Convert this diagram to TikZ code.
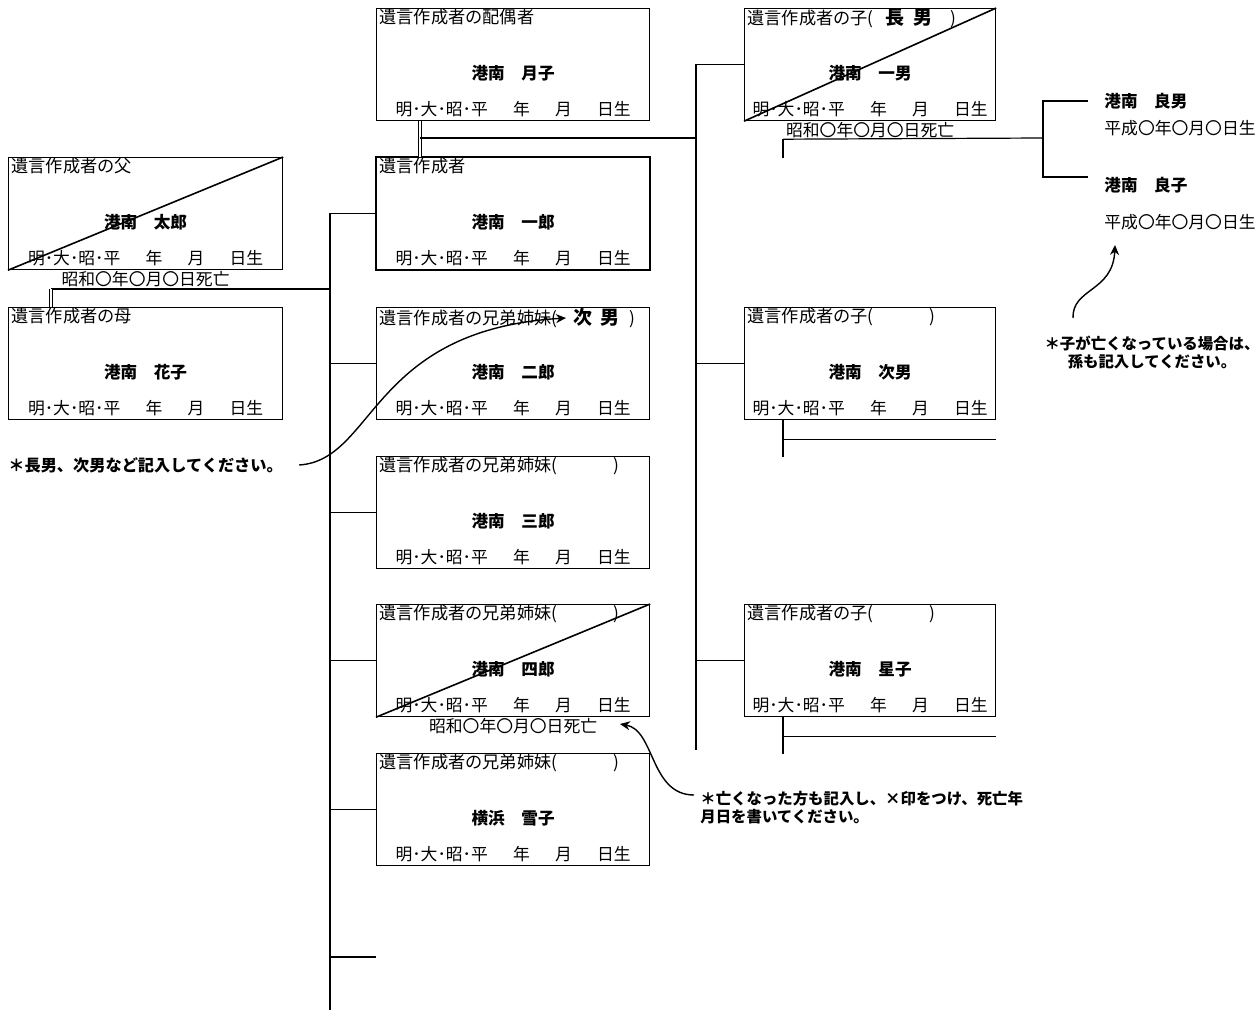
\documentclass[tikz,border=0pt]{standalone}
\usepackage{fontspec}
\setmainfont{Noto Sans CJK JP}
\usetikzlibrary{arrows.meta}

\tikzset{
  card/.style={draw,line width=0.6pt,minimum height=56pt,inner sep=0pt,anchor=north west},
  lbl/.style={anchor=north west,inner sep=0pt,font=\fontsize{8.6}{9}\selectfont},
  nm/.style={inner sep=0pt,font=\fontsize{8.3}{9}\selectfont\bfseries},
  dt/.style={inner sep=0pt,font=\fontsize{8.4}{9}\selectfont},
  died/.style={anchor=north,inner sep=0pt,font=\fontsize{8.4}{9}\selectfont},
  strike/.style={line width=0.8pt},
  conn/.style={line width=0.6pt},
  heir/.style={line width=1.1pt},
  marriage/.style={double,double distance=1.2pt,line width=0.5pt},
  gcname/.style={anchor=west,inner xsep=8pt,inner ysep=0pt,font=\fontsize{8.3}{9}\selectfont\bfseries},
  gcdate/.style={anchor=west,inner sep=0pt,font=\fontsize{8.4}{9}\selectfont},
  note/.style={inner sep=0pt,font=\fontsize{7.7}{9}\selectfont\bfseries},
  noteline/.style={line width=0.7pt,-{Stealth[length=5pt,width=4.5pt]}},
}

\newcommand{\seinen}{明･大･昭･平\hspace{1.5em}年\hspace{1.5em}月\hspace{1.5em}日生}
\newcommand{\shibou}{昭和〇年〇月〇日死亡}
\newcommand{\famcard}[5]{%
  \node[card,minimum width=#3] (#1) at (#2) {};
  \node[lbl] (#1-lbl) at ([xshift=1.5pt,yshift=-0.4pt]#1.north west) {#4};
  \node[nm] (#1-nm) at ([yshift=-4.5pt]#1.center) {#5};
  \node[dt] (#1-dt) at ([yshift=-22.5pt]#1.center) {\seinen};
}

\begin{document}
\begin{tikzpicture}[x=0.5pt,y=-0.5pt]
  \useasboundingbox (0,0) rectangle (1260,1011);

  % parents
  \famcard{father}{8,157}{137pt}{遺言作成者の父}{港南　太郎}
  \famcard{mother}{8,307}{137pt}{遺言作成者の母}{港南　花子}
  \draw[strike] (father.south west) -- (father.north east);
  \node[died] (father-died) at ([yshift=-0.5pt]father.south) {\shibou};

  % testator, spouse, siblings
  \famcard{spouse}{376,8}{136.5pt}{遺言作成者の配偶者}{港南　月子}
  \famcard{testator}{376,157}{136.5pt}{遺言作成者}{港南　一郎}
  \draw[line width=1.1pt] (testator.north west) rectangle (testator.south east);
  \famcard{sib1}{376,307}{136.5pt}{遺言作成者の兄弟姉妹(\hspace{8pt}{\fontsize{9.5}{9}\selectfont\bfseries 次\hspace{4pt}男}\hspace{5pt})}{港南　二郎}
  \famcard{sib2}{376,456}{136.5pt}{遺言作成者の兄弟姉妹(\hspace{28pt})}{港南　三郎}
  \famcard{sib3}{376,604}{136.5pt}{遺言作成者の兄弟姉妹(\hspace{28pt})}{港南　四郎}
  \famcard{sib4}{376,753}{136.5pt}{遺言作成者の兄弟姉妹(\hspace{28pt})}{横浜　雪子}
  \draw[strike] (sib3.south west) -- (sib3.north east);
  \node[died] (sib3-died) at ([yshift=-0.5pt]sib3.south) {\shibou};

  % children
  \famcard{child1}{744,8}{125.5pt}{遺言作成者の子(\hspace{6pt}{\fontsize{9.5}{9}\selectfont\bfseries 長\hspace{4.5pt}男}\hspace{9pt})}{港南　一男}
  \famcard{child2}{744,307}{125.5pt}{遺言作成者の子(\hspace{28pt})}{港南　次男}
  \famcard{child3}{744,604}{125.5pt}{遺言作成者の子(\hspace{28pt})}{港南　星子}
  \draw[strike] (child1.south west) -- (child1.north east);
  \node[died] (child1-died) at ([yshift=-0.5pt]child1.south) {\shibou};

  % grandchildren
  \node[gcname] (gc1) at (1088,101) {港南　良男};
  \node[gcdate] (gc1-date) at (1104,128) {平成〇年〇月〇日生};
  \node[gcname] (gc2) at (1088,185) {港南　良子};
  \node[gcdate] (gc2-date) at (1104,222) {平成〇年〇月〇日生};

  % tree lines
  \coordinate (trunk-end) at (330,1010);
  \coordinate (sib5) at (376,957);
  \draw[conn] (testator.west) -- (testator.west -| trunk-end) -- (trunk-end);
  \foreach \s in {sib1,sib2,sib3,sib4,sib5}
    \draw[conn] (\s.west) -- (\s.west -| trunk-end);

  \coordinate (parents) at (51,289);
  \draw[conn] (parents) -- (parents -| trunk-end);
  \draw[marriage] (parents) -- (parents |- mother.north);

  \coordinate (couple) at (420,138);
  \coordinate (kids-end) at (696,750);
  \draw[marriage] (couple |- spouse.south) -- (couple |- testator.north);
  \draw[conn] (couple) -- (couple -| kids-end);
  \draw[conn] (child1.west) -- (child1.west -| kids-end) -- (kids-end);
  \foreach \c in {child2,child3}
    \draw[conn] (\c.west) -- (\c.west -| kids-end);

  \coordinate (child1-mid) at ([xshift=19.5pt,yshift=-9pt]child1.south west);
  \coordinate (gc-fork) at (1043,138);
  \coordinate (gc2-tie) at ([yshift=4pt]gc2.west);
  \draw[heir] (child1-mid) -- ++(0,19);
  \draw[conn] (child1-mid) -- (gc-fork);
  \draw[conn] (gc1.west) -| (gc-fork) |- (gc2-tie);
  \foreach \c in {child2,child3}{
    \coordinate (\c-top) at ([xshift=19.5pt]\c.south west);
    \coordinate (\c-mid) at ([yshift=-9.5pt]\c-top);
    \draw[heir] (\c-top) -- ++(0,37);
    \draw[conn] (\c-mid) -- (\c-mid -| \c.east);
  }

  % notes
  \node[note,anchor=west,font=\fontsize{8.1}{9}\selectfont\bfseries] (note1) at (8,465) {＊長男、次男など記入してください。};
  \coordinate (note1-tip) at (566,318);
  \draw[noteline] ([xshift=8pt]note1.east) .. controls (375,460) and (370,330) .. (note1-tip);

  \node[note,anchor=north west,align=left] (note2) at (700,791)
    {＊亡くなった方も記入し、×印をつけ、死亡年\\月日を書いてください。};
  \coordinate (note2-tip) at (620,724);
  \draw[noteline] ([xshift=-3pt,yshift=-2pt]note2.north west) .. controls (650,795) and (655,730) .. (note2-tip);

  \node[note,align=center] (note3) at (1152,352)
    {＊子が亡くなっている場合は、\\孫も記入してください。};
  \coordinate (note3-tip) at (1115,245);
  \draw[noteline] (1073,318) .. controls (1072,288) and (1113,292) .. (note3-tip);
\end{tikzpicture}
\end{document}
